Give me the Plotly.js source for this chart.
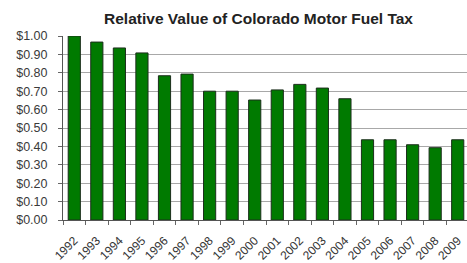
<!DOCTYPE html>
<html>
<head>
<meta charset="utf-8">
<script src="https://cdn.plot.ly/plotly-3.0.1.min.js"></script>
<style>
html,body{margin:0;padding:0;overflow:hidden;background:#fff;}
#chart{width:470px;height:263px;}
</style>
</head>
<body>
<div id="chart"></div>
<script>
const years = ["1992","1993","1994","1995","1996","1997","1998","1999","2000","2001","2002","2003","2004","2005","2006","2007","2008","2009"];
const values = [1.00,0.967,0.935,0.908,0.784,0.793,0.70,0.70,0.652,0.707,0.737,0.717,0.659,0.436,0.436,0.409,0.393,0.436];
const yTicks = [0,0.1,0.2,0.3,0.4,0.5,0.6,0.7,0.8,0.9,1.0];
const yTickText = ["$0.00","$0.10","$0.20","$0.30","$0.40","$0.50","$0.60","$0.70","$0.80","$0.90","$1.00"];

Plotly.newPlot("chart", [{
  type: "bar",
  x: years,
  y: values,
  marker: {color: "#007a00", line: {color: "#1c2e1c", width: 1}},
  hoverinfo: "none"
}], {
  width: 470, height: 263,
  margin: {l: 63, r: 1, t: 36, b: 43},
  paper_bgcolor: "#fff", plot_bgcolor: "#fff",
  bargap: 0.46,
  showlegend: false,
  title: {text: "<b>Relative Value of Colorado Motor Fuel Tax</b>", x: 0.55, xanchor: "center", y: 0.928, yanchor: "middle",
    font: {family: "Arial, Liberation Sans, sans-serif", size: 15.5, color: "#222"}},
  xaxis: {
    type: "category",
    tickangle: -45,
    tickfont: {family: "Arial, Liberation Sans, sans-serif", size: 12, color: "#333"},
    ticks: "outside", tickson: "boundaries", ticklen: 4, tickcolor: "#666",
    ticklabelstandoff: 8,
    showline: true, linecolor: "#555", linewidth: 1,
    showgrid: false, fixedrange: true
  },
  yaxis: {
    range: [0, 1.0],
    tickvals: yTicks, ticktext: yTickText,
    tickfont: {family: "Arial, Liberation Sans, sans-serif", size: 12.5, color: "#3a3a3a"},
    ticks: "outside", ticklen: 4, tickcolor: "#666",
    ticklabelstandoff: 8,
    showline: true, linecolor: "#555", linewidth: 1,
    showgrid: true, gridcolor: "#a8a8a8", gridwidth: 1,
    zeroline: false, fixedrange: true
  }
}, {staticPlot: true, displayModeBar: false});
</script>
</body>
</html>
